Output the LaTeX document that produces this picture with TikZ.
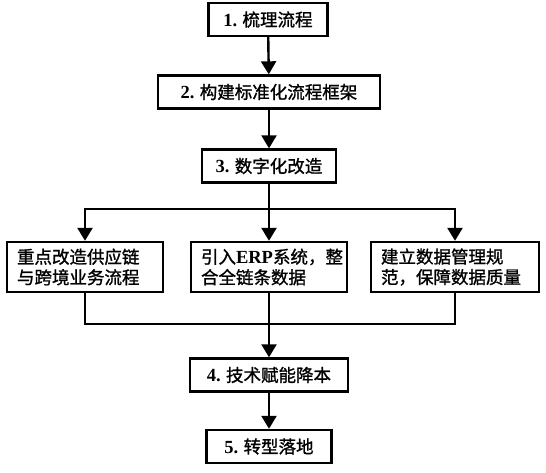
\documentclass[tikz,border=0pt]{standalone}
\usepackage{fontspec}
\setmainfont{Liberation Serif}
\newfontfamily\cjk[FakeBold=1.2]{Noto Sans CJK SC}
\usetikzlibrary{arrows.meta, calc}

\newcommand{\lat}[1]{{\rmfamily\bfseries\fontsize{18.5}{21}\selectfont #1}}

\tikzset{
	stepbox/.style={
		rectangle, draw=black, line width=2.4pt,
		minimum height=33pt, inner sep=0pt,
		align=center, font=\cjk\fontsize{17.5}{21}\selectfont
	},
	taskbox/.style={
		rectangle, draw=black, line width=2.4pt,
		minimum height=50pt, inner xsep=10pt, inner ysep=4pt,
		align=left, font=\cjk\fontsize{17.5}{20.5}\selectfont
	},
	arrow/.style={
		-{Triangle[length=13pt, width=15pt]}, line width=2.4pt
	},
	link/.style={
		line width=2.4pt, line cap=rect
	}
}

\begin{document}
\begin{tikzpicture}[x=1pt, y=-1pt]
		\useasboundingbox (0,0) rectangle (546,472);
		
		%% main steps
		\node[stepbox, minimum width=119pt] (b1) at (268,19.5)  {\lat{1.} 梳理流程};
		\node[stepbox, minimum width=222pt] (b2) at (269,92)    {\lat{2.} 构建标准化流程框架};
		\node[stepbox, minimum width=134pt] (b3) at (269,166)   {\lat{3.} 数字化改造};
		
		%% digital tasks
		\node[taskbox, text width=136pt] (s1) at (85,267)  {重点改造供应链\\与跨境业务流程};
		\node[taskbox, text width=136pt] (s2) at (269,267) {引入\lat{ERP}系统，整\\合全链条数据};
		\node[taskbox, text width=148pt] (s3) at (455,267) {建立数据管理规\\范，保障数据质量};
		
		%% final steps
		\node[stepbox, minimum width=158pt] (b4) at (269,375)   {\lat{4.} 技术赋能降本};
		\node[stepbox, minimum width=125pt] (b5) at (269,446.5) {\lat{5.} 转型落地};
		
		\coordinate (split) at (269,209);
		\coordinate (merge) at (269,324);
		
		%% arrows
		\draw[arrow] (b1) -- (b2);
		\draw[arrow] (b2) -- (b3);
		\draw[arrow] (b3) -- (s2);
		
		% branch out
		\draw[link] (s1.north |- split) -- (s3.north |- split);
		\draw[arrow] (s1.north |- split) -- (s1.north);
		\draw[arrow] (s3.north |- split) -- (s3.north);
		
		% join back
		\draw[link] (s1.south) -- (s1.south |- merge) -- (s3.south |- merge) -- (s3.south);
		\draw[arrow] (s2) -- (b4);
		\draw[arrow] (b4) -- (b5);
	\end{tikzpicture}
\end{document}
